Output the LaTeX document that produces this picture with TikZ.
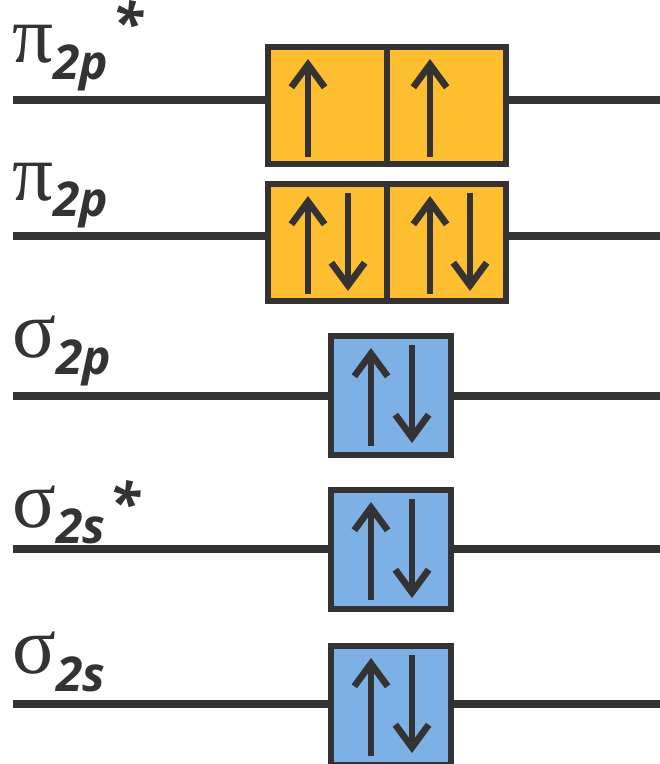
\documentclass[tikz,border=0pt]{standalone}
\usepackage{fontspec}
\usetikzlibrary{arrows.meta}
\newfontfamily\grkfont{Liberation Serif}
\newfontfamily\subfont{Open Sans}
\definecolor{mogray}{RGB}{52,50,50}
\definecolor{mopi}{RGB}{253,190,47}
\definecolor{mosigma}{RGB}{125,176,229}

\begin{document}
\begin{tikzpicture}[x=0.75pt,y=0.75pt,yscale=-1,xscale=1,
    level/.style={draw=mogray,line width=5.6pt},
    orbpi/.style={draw=mogray,fill=mopi,line width=4.6pt},
    orbsig/.style={draw=mogray,fill=mosigma,line width=4.6pt},
    spin/.style={draw=mogray,line width=5pt,-{Straight Barb[length=17pt,width=25pt]}},
    molbl/.style={anchor=base west,inner sep=0pt,text=mogray}]
    \path[use as bounding box] (0,0) rectangle (660,764);
    \clip (0,0) rectangle (660,764);

    % Energy levels
    \coordinate (l1) at (13,100);  \coordinate (r1) at (660,100);
    \coordinate (l2) at (13,236);  \coordinate (r2) at (660,236);
    \coordinate (l3) at (13,396);  \coordinate (r3) at (660,396);
    \coordinate (l4) at (13,549);  \coordinate (r4) at (660,549);
    \coordinate (l5) at (13,704);  \coordinate (r5) at (660,704);
    \draw[level] (l1) -- (r1);
    \draw[level] (l2) -- (r2);
    \draw[level] (l3) -- (r3);
    \draw[level] (l4) -- (r4);
    \draw[level] (l5) -- (r5);

    %Shape: Rectangle (pi* pair)
    \draw[orbpi] (268,47) rectangle (506,164);
    \draw[orbpi] (387,47) -- (387,164);
    %Shape: Rectangle (pi pair)
    \draw[orbpi] (268,184) rectangle (506,301);
    \draw[orbpi] (387,184) -- (387,301);
    %Shape: Rectangle (sigma boxes)
    \draw[orbsig] (331,336) rectangle (451,455);
    \draw[orbsig] (331,490) rectangle (451,609);
    \draw[orbsig] (331,646) rectangle (451,765);

    %Spins: pi*
    \draw[spin] (308,157) -- (308,59);
    \draw[spin] (430,157) -- (430,59);
    %Spins: pi
    \draw[spin] (308,294) -- (308,196);
    \draw[spin] (348,193) -- (348,291);
    \draw[spin] (430,294) -- (430,196);
    \draw[spin] (470,193) -- (470,291);
    %Spins: sigma 2p
    \draw[spin] (371,446) -- (371,348);
    \draw[spin] (412,345) -- (412,443);
    %Spins: sigma 2s*
    \draw[spin] (371,600) -- (371,502);
    \draw[spin] (412,499) -- (412,598);
    %Spins: sigma 2s
    \draw[spin] (371,756) -- (371,658);
    \draw[spin] (412,655) -- (412,753);

    % Text Node
    \node[molbl] (pistar) at (12,62) {\grkfont\fontsize{61}{61}\selectfont π\subfont\bfseries\itshape\fontsize{36}{36}\selectfont\raisebox{-13pt}{2p}\hspace{3pt}\fontsize{42}{42}\selectfont\raisebox{14pt}{*}};
    % Text Node
    \node[molbl] (pi) at (12,200) {\grkfont\fontsize{61}{61}\selectfont π\subfont\bfseries\itshape\fontsize{36}{36}\selectfont\raisebox{-12pt}{2p}};
    % Text Node
    \node[molbl] (sigp) at (12,357) {\grkfont\fontsize{61}{61}\selectfont σ\subfont\bfseries\itshape\fontsize{36}{36}\selectfont\raisebox{-13pt}{2p}};
    % Text Node
    \node[molbl] (sigsstar) at (12,527) {\grkfont\fontsize{61}{61}\selectfont σ\subfont\bfseries\itshape\fontsize{36}{36}\selectfont\raisebox{-12pt}{2s}\hspace{3pt}\fontsize{42}{42}\selectfont\raisebox{3pt}{*}};
    % Text Node
    \node[molbl] (sigs) at (12,673) {\grkfont\fontsize{61}{61}\selectfont σ\subfont\bfseries\itshape\fontsize{36}{36}\selectfont\raisebox{-14pt}{2s}};

\end{tikzpicture}
\end{document}
